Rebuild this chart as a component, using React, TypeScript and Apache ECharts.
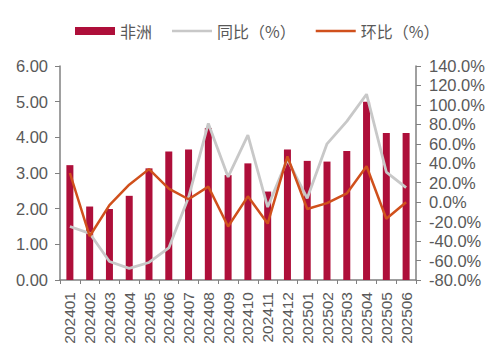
import React, { useEffect, useRef } from "react";
import * as echarts from "echarts";

const categories = [
  "202401", "202402", "202403", "202404", "202405", "202406",
  "202407", "202408", "202409", "202410", "202411", "202412",
  "202501", "202502", "202503", "202504", "202505", "202506",
];
const africaValues = [3.22, 2.06, 1.99, 2.36, 3.13, 3.6, 3.66, 4.26, 2.94, 3.27, 2.48, 3.66, 3.34, 3.32, 3.62, 5.0, 4.12, 4.12];
const yoyValues = [-25, -32, -61, -68, -62, -47, 5, 81, 26, 69, -5, 44, 4, 60, 83, 111, 31, 15];
const momValues = [30, -35, -3, 18, 34, 14, 3, 16, -25, 6, -22, 47, -7, -1, 9, 37, -17, 0];

const seriesNames = ["非洲", "同比（%）", "环比（%）"];

const axisColor = "#808080";
const labelColor = "#595959";
const font = "'Liberation Sans', Arial, sans-serif";
const lineIcon = "path://M0 0H40V2.5H0Z";

export default function App() {
  const ref = useRef<HTMLDivElement>(null);
  useEffect(() => {
    if (!ref.current) return;
    const chart = echarts.init(ref.current, undefined, { renderer: "svg" });
    chart.setOption({
      animation: false,
      legend: {
        top: 18,
        left: 70,
        itemWidth: 40,
        itemHeight: 8,
        itemGap: 20,
        symbolKeepAspect: true,
        textStyle: { color: labelColor, fontSize: 16, fontFamily: "'Noto Sans CJK SC', sans-serif" },
        data: [
          { name: seriesNames[0], icon: "rect" },
          { name: seriesNames[1], icon: lineIcon },
          { name: seriesNames[2], icon: lineIcon },
        ],
      },
      grid: { left: 60, right: 84, top: 66, bottom: 79 },
      xAxis: {
        type: "category",
        data: categories,
        axisLine: { lineStyle: { color: axisColor, width: 1.5 } },
        axisTick: { show: true, length: 4, alignWithLabel: false, lineStyle: { color: axisColor } },
        axisLabel: {
          rotate: 90,
          interval: 0,
          margin: 12,
          color: labelColor,
          fontSize: 15.5,
          fontFamily: font,
        },
      },
      yAxis: [
        {
          type: "value",
          min: 0,
          max: 6,
          interval: 1,
          splitLine: { show: false },
          axisLine: { show: true, lineStyle: { color: axisColor, width: 1.5 } },
          axisTick: { show: true, length: 5, lineStyle: { color: axisColor } },
          axisLabel: {
            formatter: (v: number) => v.toFixed(2),
            color: labelColor,
            fontSize: 16.5,
            fontFamily: font,
            margin: 12,
          },
        },
        {
          type: "value",
          min: -80,
          max: 140,
          interval: 20,
          splitLine: { show: false },
          axisLine: { show: true, lineStyle: { color: axisColor, width: 1.5 } },
          axisTick: { show: true, length: 5, lineStyle: { color: axisColor } },
          axisLabel: {
            formatter: (v: number) => v.toFixed(1) + "%",
            color: labelColor,
            fontSize: 16.5,
            fontFamily: font,
            margin: 13,
          },
        },
      ],
      series: [
        {
          name: seriesNames[0],
          type: "bar",
          data: africaValues,
          barWidth: 7,
          itemStyle: { color: "#AE0F3A" },
        },
        {
          name: seriesNames[1],
          type: "line",
          yAxisIndex: 1,
          data: yoyValues,
          symbol: "none",
          lineStyle: { color: "#C8C8C8", width: 2.8 },
          itemStyle: { color: "#C8C8C8" },
        },
        {
          name: seriesNames[2],
          type: "line",
          yAxisIndex: 1,
          data: momValues,
          symbol: "none",
          lineStyle: { color: "#D0501C", width: 2.5 },
          itemStyle: { color: "#D0501C" },
        },
      ],
    });
    return () => chart.dispose();
  }, []);
  return (
    <div
      ref={ref}
      style={{ position: "fixed", left: 0, top: 0, width: 500, height: 359, background: "#fff" }}
    />
  );
}
